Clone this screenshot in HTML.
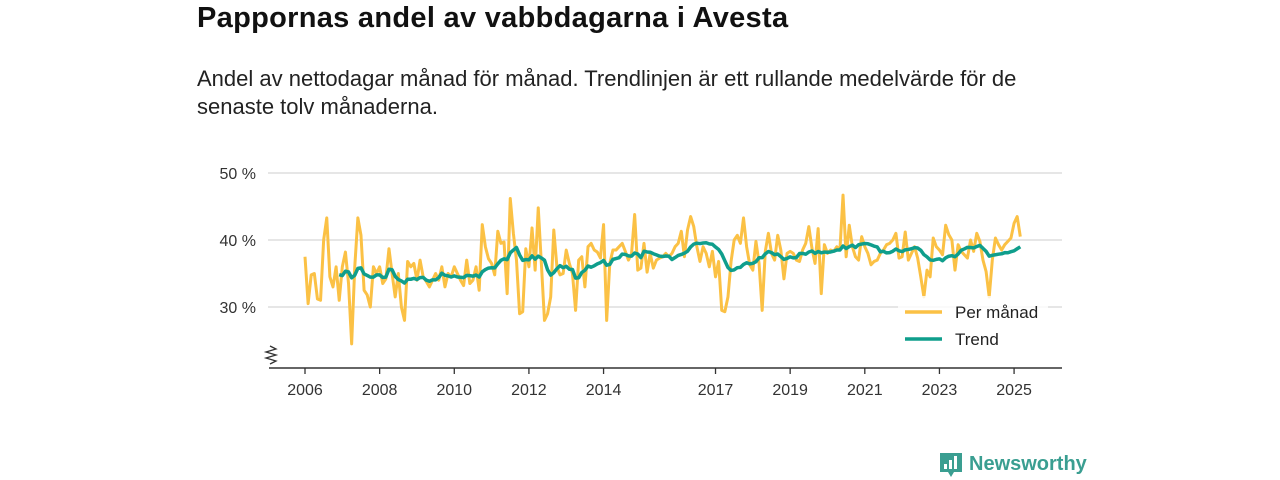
<!DOCTYPE html>
<html><head><meta charset="utf-8">
<style>
body{margin:0;width:1280px;height:480px;background:#fff;font-family:"Liberation Sans",sans-serif;color:#111;overflow:hidden;position:relative}
#title{position:absolute;left:197px;top:2px;font-size:29px;font-weight:bold;margin:0;letter-spacing:0.3px}
#sub{position:absolute;left:197px;top:65px;font-size:22px;line-height:28px;width:860px;color:#222}
svg{position:absolute;left:0;top:0}
</style></head><body>
<h1 id="title">Pappornas andel av vabbdagarna i Avesta</h1>
<div id="sub">Andel av nettodagar månad för månad. Trendlinjen är ett rullande medelvärde för de senaste tolv månaderna.</div>
<svg id="chart" width="1280" height="480"></svg>
<script>
const monthly=[37.5,30.5,34.8,35,31.2,31,40,43.3,34.5,33,36,31,
36,38.2,33.5,24.5,36,43.3,40.7,32.5,31.8,30,36,35,
36,33.5,34.2,38.7,35,31.5,35,30,28,36.8,36,36.5,
34,37,34.5,33.8,33,34,35,34,36,33,35,34.5,
36,35,34,33.2,37,33.5,34,36,32.5,42.3,39,37.2,
36.5,34.8,41.3,39.5,39.7,32,46.2,41,37,29,29.3,38.7,
36,41.8,35.5,44.8,36.5,28,29,31.5,41.5,36,34.8,35,38.5,36.5,35,29.5,37,37.5,33,39,39.5,38.5,38.2,37.3,42.3,28,36.5,38.5,38.5,39,39.5,38.3,37,38,43.8,35.5,35.8,39.5,35.2,38,35.8,37,37.3,37.5,38,37.5,38,39,39.5,41.3,37.5,41.5,43.5,42,39,36.8,39,38,36,38.3,34.5,36.8,29.5,29.3,31.5,36.8,40,40.7,39.5,43.3,39,36.3,35.5,39.8,36.5,29.5,38.3,41,38,37,
40.7,38.5,34.2,38,38.3,38,37,36.8,38.5,39.5,42,38.8,36.5,41.7,32,39.3,38,38.5,38.3,39,38.5,46.7,37.5,42.2,39,37.5,37,40.5,39,38,36.3,36.8,37,38,38.5,39.3,39.5,40,41,37.3,37.5,41.2,37,38,39,37.3,34.5,31.5,35.5,34.5,40.3,39,38.5,37.8,42.2,40.8,40,35.5,39.3,38.3,37.8,37.3,40,38.3,41,39.8,37,35.3,31.5,37,40.3,39.3,38.5,39.3,39.8,40.3,42.5,43.5,40.5];
const startYear=2006;
const xTicks=[2006,2008,2010,2012,2014,2017,2019,2021,2023,2025];
const yTicks=[30,40,50];
const NS="http://www.w3.org/2000/svg";
const svg=document.getElementById('chart');
const X=t=>305+(t-2006)*37.32;
const Y=v=>307-(v-30)*6.7;
function mk(tag,attrs,parent){const e=document.createElementNS(NS,tag);for(const k in attrs)e.setAttribute(k,attrs[k]);(parent||svg).appendChild(e);return e;}
yTicks.forEach(v=>{
 const g=mk('line',{x1:268,x2:1062,y1:Y(v),y2:Y(v),stroke:'#d8d8d8','stroke-width':1.3});
 
 
 const t=mk('text',{x:256,y:Y(v)+6,'text-anchor':'end','font-size':16,fill:'#333'});
 t.textContent=v+' %';
 
 
});
const ax=mk('line',{x1:269,x2:1062,y1:368,y2:368,stroke:'#333','stroke-width':1.5});


const zz=mk('path',{d:'M270,346 L276,349 L266,352 L276,355 L266,358 L276,361 L270,364',fill:'none',stroke:'#333','stroke-width':1.3});


xTicks.forEach(y=>{
 const l=mk('line',{x1:X(y),x2:X(y),y1:368,y2:374,stroke:'#333','stroke-width':1.3});
 
 
 const t=mk('text',{x:X(y),y:395,'text-anchor':'middle','font-size':16,fill:'#333'});
 t.textContent=y;
 
 
});
const pts=monthly.map((v,i)=>[X(startYear+i/12),Y(v)]);
const ml=mk('polyline',{points:pts.map(p=>p.join(',')).join(' '),fill:'none',stroke:'#fbc145','stroke-width':3,'stroke-linejoin':'round'});


const tp=[];
for(let i=11;i<monthly.length;i++){let s=0;for(let j=i-11;j<=i;j++)s+=monthly[j];tp.push([X(startYear+i/12),Y(s/12)]);}
const tl=mk('polyline',{points:tp.map(p=>p.join(',')).join(' '),fill:'none',stroke:'#0f9e8c','stroke-width':3.5,'stroke-linejoin':'round'});


const bg=mk('rect',{x:898,y:296,width:150,height:60,fill:'#fff',opacity:0.8});


[['Per månad','#fbc145',312],['Trend','#0f9e8c',339]].forEach(([n,c,y])=>{
 const l=mk('line',{x1:905,x2:942,y1:y,y2:y,stroke:c,'stroke-width':3.5});
 
 
 const t=mk('text',{x:955,y:y+6,'font-size':17,fill:'#222'});
 t.textContent=n;
 
 
});
const lg=mk('g',{});


mk('path',{d:'M940,453 h22 v19 h-8 l-3,5 l-3,-5 h-8 z',fill:'#3a9e91'},lg);
mk('rect',{x:944,y:464,width:3,height:5,fill:'#fff'},lg);
mk('rect',{x:949,y:460,width:3,height:9,fill:'#fff'},lg);
mk('rect',{x:954,y:456,width:3,height:13,fill:'#fff'},lg);
const lt=mk('text',{x:969,y:470,'font-size':20,fill:'#3a9e91','font-weight':'bold'},lg);
lt.textContent='Newsworthy';
</script>
</body></html>
